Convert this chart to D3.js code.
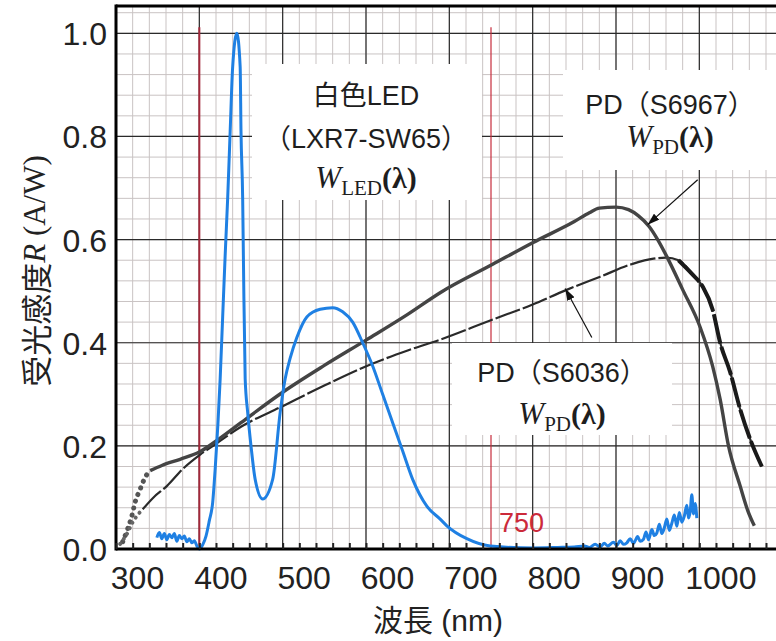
<!DOCTYPE html>
<html>
<head>
<meta charset="utf-8">
<script src="https://cdn.jsdelivr.net/npm/d3@7/dist/d3.min.js"></script>
<style>
body { margin: 0; background: #fff; }
svg { display: block; }
</style>
</head>
<body>
<div id="chart"></div>
<script>
const WIDTH = 776, HEIGHT = 641;
const margin = {top: 6, left: 116, right: 0, bottom: 91};
const SANS = "'Liberation Sans', Arial, 'Noto Sans CJK JP', sans-serif";
const SERIF = "'Liberation Serif', 'Times New Roman', serif";

// axis ticks
const xTicks = [300, 400, 500, 600, 700, 800, 900, 1000];
const yTicks = [0, 0.2, 0.4, 0.6, 0.8, 1.0];
const markLines = [400, 750];

// white LED (LXR7-SW65) spectrum, [nm, value]
const ledData = [
  [349,0.022],[352,0.032],[355,0.02],[358,0.03],[361,0.018],[364,0.028],[367,0.022],[370,0.03],
  [373,0.015],[376,0.026],[379,0.02],[382,0.025],[385,0.014],[388,0.02],[391,0.012],[394,0.016],
  [397,0.006],[400,0.0],[404,0.008],[408,0.025],[412,0.055],[416,0.09],[419,0.155],[425,0.33],
  [428,0.45],[431,0.57],[434,0.68],[437,0.81],[440,0.935],[445,1.0],[449,0.935],[450,0.81],
  [452,0.68],[453,0.55],[455,0.33],[458,0.265],[462,0.2],[467,0.135],[476,0.097],[488,0.135],
  [497,0.265],[503,0.33],[509,0.37],[517,0.41],[529,0.45],[545,0.465],[560,0.468],[572,0.46],
  [584,0.44],[596,0.40],[608,0.355],[620,0.30],[632,0.245],[644,0.19],[656,0.135],[673,0.083],
  [689,0.058],[697,0.045],[721,0.02],[749,0.006],[800,0.002],[830,0.003],[850,0.004],[862,0.006],
  [868,0.003],[875,0.009],[881,0.004],[886,0.011],[890,0.006],[897,0.013],[901,0.007],[905,0.016],
  [909,0.009],[913,0.012],[917,0.02],[921,0.011],[926,0.024],[929,0.015],[933,0.019],[936,0.033],
  [939,0.018],[943,0.038],[946,0.026],[949,0.031],[952,0.048],[955,0.03],[958,0.041],[961,0.058],
  [964,0.036],[967,0.05],[970,0.066],[973,0.044],[976,0.071],[979,0.052],[982,0.064],[985,0.085],
  [987,0.06],[989,0.072],[991,0.105],[993,0.068],[995,0.088],[997,0.06]
];

// PD S6967 (solid)
const s6967Dotted = [[308,0.014],[314,0.039],[319,0.064],[323,0.091],[329,0.116],[335,0.139],[341,0.152]];
const s6967 = [
  [341,0.152],[355,0.162],[377,0.174],[400,0.188],[425,0.215],[450,0.245],[500,0.304],[550,0.356],
  [601,0.406],[650,0.455],[689,0.497],[752,0.552],[800,0.594],[850,0.635],[868,0.652],[880,0.661],
  [900,0.663],[915,0.658],[927,0.646],[940,0.625],[950,0.6],[961,0.567],[980,0.503],[1001,0.43],
  [1016,0.354],[1025,0.29],[1035,0.2],[1049,0.122],[1058,0.075],[1066,0.045]
];

// PD S6036 (dashed)
const s6036Dotted = [[305,0.01],[313,0.029],[320,0.052],[327,0.068],[332,0.077]];
const s6036 = [
  [332,0.077],[345,0.10],[361,0.122],[380,0.155],[401,0.183],[420,0.204],[450,0.237],[500,0.277],
  [550,0.317],[601,0.355],[650,0.385],[689,0.406],[752,0.445],[800,0.474],[840,0.502],[881,0.528],
  [920,0.553],[945,0.563],[960,0.565],[975,0.56],[992,0.532],[1004,0.509],[1016,0.464],[1025,0.40],
  [1037,0.343],[1049,0.271],[1061,0.213],[1075,0.16]
];

const plotW = WIDTH - margin.left - margin.right;
const plotH = HEIGHT - margin.top - margin.bottom;

const xScale = d3.scaleLinear().domain([300, 1092]).range([margin.left, margin.left + plotW]);
const yScale = d3.scaleLinear().domain([0, 1.053]).range([margin.top + plotH - 1, margin.top]);

const svg = d3.select("#chart").append("svg")
  .attr("width", WIDTH).attr("height", HEIGHT);

const defs = svg.append("defs");
defs.append("marker").attr("id", "arrow")
  .attr("viewBox", "0 0 12 8").attr("refX", 12).attr("refY", 4)
  .attr("markerWidth", 12).attr("markerHeight", 8)
  .attr("markerUnits", "userSpaceOnUse").attr("orient", "auto")
  .append("path").attr("d", "M0,0 L12,4 L0,8 Z").attr("fill", "#111");

const y0 = yScale(0), yTop = margin.top;
const xL = margin.left, xR = margin.left + plotW;

// minor grid
const minorX = d3.range(320, 1092, 20);
const minorY = d3.range(0.04, 1.05, 0.04);
const grid = svg.append("g").attr("class", "grid");
grid.selectAll("line.mx").data(minorX).enter().append("line")
  .attr("x1", d => xScale(d)).attr("x2", d => xScale(d))
  .attr("y1", yTop).attr("y2", y0)
  .attr("stroke", "#c9c3c3").attr("stroke-width", 1);
grid.selectAll("line.my").data(minorY).enter().append("line")
  .attr("x1", xL).attr("x2", xR)
  .attr("y1", d => yScale(d)).attr("y2", d => yScale(d))
  .attr("stroke", "#c9c3c3").attr("stroke-width", 1);
// major grid
grid.selectAll("line.Mx").data(xTicks.filter(d => d > 300)).enter().append("line")
  .attr("x1", d => xScale(d)).attr("x2", d => xScale(d))
  .attr("y1", yTop).attr("y2", y0)
  .attr("stroke", "#2a2a2a").attr("stroke-width", 1.2);
grid.selectAll("line.My").data(yTicks.filter(d => d > 0)).enter().append("line")
  .attr("x1", xL).attr("x2", xR)
  .attr("y1", d => yScale(d)).attr("y2", d => yScale(d))
  .attr("stroke", "#2a2a2a").attr("stroke-width", 1.2);

// red marker lines
svg.append("g").selectAll("line").data(markLines).enter().append("line")
  .attr("x1", d => xScale(d)).attr("x2", d => xScale(d))
  .attr("y1", yScale(1.012)).attr("y2", y0)
  .attr("stroke", (d, i) => i === 0 ? "#a3283a" : "#c62c3c")
  .attr("stroke-width", (d, i) => i === 0 ? 2 : 1.2);

// white label boxes
const boxes = [
  {x: 252, y: 64, w: 230, h: 136},
  {x: 563, y: 70, w: 213, h: 100},
  {x: 452, y: 343, w: 220, h: 92}
];
svg.append("g").selectAll("rect").data(boxes).enter().append("rect")
  .attr("x", d => d.x).attr("y", d => d.y).attr("width", d => d.w).attr("height", d => d.h)
  .attr("fill", "#fff");

const line = d3.line().x(d => xScale(d[0])).y(d => yScale(d[1])).curve(d3.curveMonotoneX);
const curves = svg.append("g").attr("fill", "none");

// dotted UV parts
curves.append("path").attr("d", line(s6967Dotted))
  .attr("stroke", "#555").attr("stroke-width", 5)
  .attr("stroke-linecap", "round").attr("stroke-dasharray", "0.1,7");
curves.append("path").attr("d", line(s6036Dotted))
  .attr("stroke", "#666").attr("stroke-width", 4)
  .attr("stroke-linecap", "round").attr("stroke-dasharray", "0.1,6");

// S6036 dashed
curves.append("path").attr("d", line(s6036))
  .attr("stroke", "#2a2a2a").attr("stroke-width", 2.2).attr("stroke-dasharray", "26,3");
curves.append("path").attr("d", line(s6036.filter(d => d[0] >= 975)))
  .attr("stroke", "#1a1a1a").attr("stroke-width", 4).attr("stroke-dasharray", "30,3");

// S6967 solid
curves.append("path").attr("d", line(s6967))
  .attr("stroke", "#444").attr("stroke-width", 3.4);

// LED
curves.append("path").attr("d", line(ledData))
  .attr("stroke", "#1f80e3").attr("stroke-width", 3).attr("stroke-linejoin", "round");

// arrows
const arrows = [
  {from: [998, 0.716], to: [938, 0.629]},
  {from: [871, 0.41], to: [839, 0.505]}
];
svg.append("g").selectAll("line").data(arrows).enter().append("line")
  .attr("x1", d => xScale(d.from[0])).attr("y1", d => yScale(d.from[1]))
  .attr("x2", d => xScale(d.to[0])).attr("y2", d => yScale(d.to[1]))
  .attr("stroke", "#111").attr("stroke-width", 1.2).attr("marker-end", "url(#arrow)");

// frame
const frame = svg.append("g").attr("stroke", "#000").attr("stroke-width", 3);
frame.append("line").attr("x1", xL).attr("x2", xR).attr("y1", yTop).attr("y2", yTop);
frame.append("line").attr("x1", xL).attr("x2", xL).attr("y1", yTop - 1.5).attr("y2", y0 + 1.5);
frame.append("line").attr("x1", xL).attr("x2", xR).attr("y1", y0).attr("y2", y0);

// bottom axis: small ticks every 20 nm, labels sit right of the 100 nm lines
const xAxis = d3.axisBottom(xScale).tickValues(d3.range(300, 1092, 20))
  .tickSize(-6).tickFormat(d => xTicks.includes(d) ? d : "");
const gx = svg.append("g").attr("transform", `translate(0,${y0})`).call(xAxis);
gx.select(".domain").remove();
gx.selectAll(".tick line").attr("stroke", "#222").attr("stroke-width", 2);
gx.selectAll(".tick text")
  .attr("x", 21).attr("y", 40).attr("dy", 0)
  .attr("font-family", SANS).attr("font-size", 32).attr("fill", "#222");

const yAxis = d3.axisLeft(yScale).tickValues(yTicks).tickSize(0).tickFormat(d3.format(".1f"));
const gy = svg.append("g").attr("transform", `translate(${xL},0)`).call(yAxis);
gy.select(".domain").remove();
gy.selectAll(".tick text")
  .attr("x", -9).attr("dy", "0.36em")
  .attr("font-family", SANS).attr("font-size", 32).attr("fill", "#222");

// axis titles
const yt = svg.append("text")
  .attr("transform", "translate(34,271) rotate(-90)")
  .attr("text-anchor", "middle").attr("dominant-baseline", "central")
  .attr("font-size", 31).attr("fill", "#222");
yt.append("tspan").attr("font-family", "'Noto Sans CJK JP', sans-serif").text("受光感度");
yt.append("tspan").attr("font-family", SERIF).attr("font-style", "italic").text("R");
yt.append("tspan").attr("font-family", SERIF).text(" (A/W)");

const xt = svg.append("text").attr("x", 438).attr("y", 631)
  .attr("text-anchor", "middle").attr("font-size", 30).attr("fill", "#222");
xt.append("tspan").attr("font-family", "'Noto Sans CJK JP', sans-serif").text("波長");
xt.append("tspan").attr("font-family", SANS).text(" (nm)");

// 750 label
svg.append("text").attr("x", xScale(750) + 8).attr("y", 532)
  .attr("font-family", SANS).attr("font-size", 27).attr("fill", "#cc2a3a").text("750");

// curve labels
const labels = [
  {cx: 366, lines: [{y: 105, t: "白色LED"}, {y: 148, t: "（LXR7-SW65）"}], wy: 188, sub: "LED"},
  {cx: 670, lines: [{y: 114, t: "PD（S6967）"}], wy: 147, sub: "PD"},
  {cx: 562, lines: [{y: 382, t: "PD（S6036）"}], wy: 424, sub: "PD"}
];
labels.forEach(l => {
  l.lines.forEach(s => {
    svg.append("text").attr("x", l.cx).attr("y", s.y).attr("text-anchor", "middle")
      .attr("font-family", SANS).attr("font-size", 27).attr("fill", "#1e1e1e").text(s.t);
  });
  const w = svg.append("text").attr("x", l.cx).attr("y", l.wy).attr("text-anchor", "middle")
    .attr("font-family", SERIF).attr("fill", "#1e1e1e");
  w.append("tspan").attr("font-size", 31).attr("font-style", "italic").text("W");
  w.append("tspan").attr("font-size", 21).attr("dy", 7).text(l.sub);
  w.append("tspan").attr("font-size", 30).attr("font-weight", "bold").attr("dy", -7).text("(λ)");
});
</script>
</body>
</html>
